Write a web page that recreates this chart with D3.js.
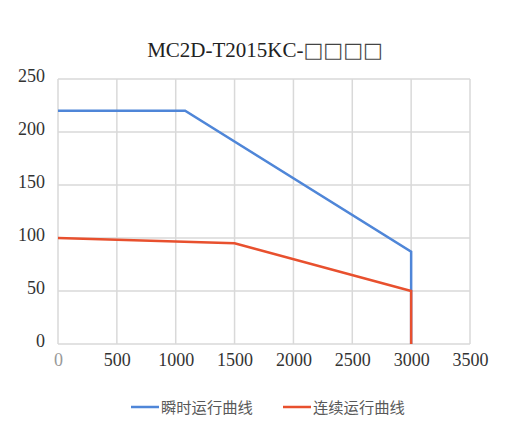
<!DOCTYPE html>
<html><head><meta charset="utf-8">
<script src="https://cdn.jsdelivr.net/npm/d3@7"></script>
<style>body{margin:0;background:#fff}</style>
</head><body>
<svg id="c" width="510" height="447"></svg>
<script>
const titleMain = "MC2D-T2015KC-";
const titleBoxes = "□□□□";
const xTicks = [0,500,1000,1500,2000,2500,3000,3500];
const yTicks = [0,50,100,150,200,250];
const peakSpeed = [0,1080,3000,3000];
const peakTorque = [220,220,87,0];
const contSpeed = [0,1500,3000,3000];
const contTorque = [100,95,50,0];
const seriesNames = ["瞬时运行曲线","连续运行曲线"];
const colors = ["#4f86d8","#e8502e"];

const svg = d3.select("#c");
const x = d3.scaleLinear().domain([0,3500]).range([58,470]);
const y = d3.scaleLinear().domain([0,250]).range([344,79]);

const t = svg.append("text").attr("x",265).attr("y",56.5).attr("text-anchor","middle")
  .style("font-family","'Liberation Serif', serif").style("font-size","21px").attr("fill","#222");
t.append("tspan").text(titleMain);
t.append("tspan").style("font-family","'DejaVu Sans'").style("font-size","21px").attr("fill","#444").text(titleBoxes);

const g = svg.append("g");
g.selectAll(".vg").data(xTicks).join("line").attr("x1",d=>x(d)).attr("x2",d=>x(d))
  .attr("y1",y(0)).attr("y2",y(250)).attr("stroke","#d9d9d9").attr("stroke-width",1.5);
g.selectAll(".hg").data(yTicks).join("line").attr("x1",x(0)).attr("x2",x(3500))
  .attr("y1",d=>y(d)).attr("y2",d=>y(d)).attr("stroke","#d9d9d9").attr("stroke-width",1.5);

const yAxis = svg.append("g").attr("transform",`translate(${x(0)},0)`)
  .call(d3.axisLeft(y).tickValues(yTicks).tickFormat(d3.format("d")).tickSize(0).tickPadding(13));
yAxis.attr("font-family",null).attr("font-size",null);
yAxis.select(".domain").remove();
yAxis.selectAll("text").style("font-family","'Liberation Serif', serif").style("font-size","18px").attr("fill","#333").attr("dy","0.15em");

const xAxis = svg.append("g").attr("transform",`translate(0,${y(0)})`)
  .call(d3.axisBottom(x).tickValues(xTicks).tickFormat(d3.format("d")).tickSize(0).tickPadding(9));
xAxis.attr("font-family",null).attr("font-size",null);
xAxis.select(".domain").remove();
xAxis.selectAll("text").style("font-family","'Liberation Serif', serif").style("font-size","18px")
  .attr("fill",d=>d===0?"#999":"#333");

const line = d3.line().x(d=>x(d[0])).y(d=>y(d[1]));
const peak = peakSpeed.map((s,i)=>[s,peakTorque[i]]);
const cont = contSpeed.map((s,i)=>[s,contTorque[i]]);
svg.append("path").attr("d",line(peak)).attr("fill","none").attr("stroke",colors[0]).attr("stroke-width",2.5);
svg.append("path").attr("d",line(cont)).attr("fill","none").attr("stroke",colors[1]).attr("stroke-width",2.5);

const lg = svg.append("g");
const lx = [131,283];
seriesNames.forEach((n,i)=>{
  lg.append("line").attr("x1",lx[i]).attr("x2",lx[i]+28).attr("y1",407).attr("y2",407)
    .attr("stroke",colors[i]).attr("stroke-width",2.5);
  lg.append("text").attr("x",lx[i]+30).attr("y",412.5).style("font-family","'Noto Sans CJK SC'")
    .style("font-size","15.3px").attr("fill","#595959").text(n);
});
</script>
</body></html>
